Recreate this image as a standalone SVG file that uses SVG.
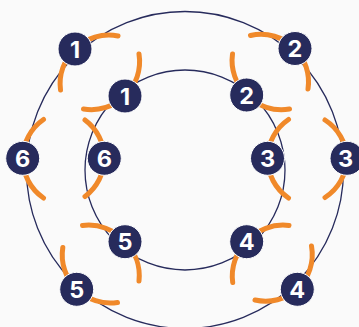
<svg xmlns="http://www.w3.org/2000/svg" width="359" height="327" viewBox="0 0 359 327">
  <style>
    .ring { fill: none; stroke: #272b5c; stroke-width: 1.3; }
    .arc { fill: none; stroke: #f0892a; stroke-width: 5; stroke-linecap: round; }
    .node circle { fill: #272b5c; stroke: #ffffff; stroke-width: 1; }
    .node text { fill: #ffffff; font-family: Inter, "Noto Sans", sans-serif; font-weight: 700; font-size: 23.5px; text-anchor: middle; }
  </style>
  <rect width="359" height="327" fill="#fafafa"/>

  <!-- concentric rings -->
  <g id="rings">
    <circle class="ring" cx="185" cy="170" r="158.5"/>
    <circle class="ring" cx="185" cy="170" r="100"/>
  </g>

  <!-- orange arcs pairing each outer badge with its inner badge -->
  <g id="connectors">
    <!-- pair 1 -->
    <path class="arc" d="M75 49 A48 48 0 0 1 118 36"/>
    <path class="arc" d="M75 49 A48 48 0 0 0 60.5 90"/>
    <path class="arc" d="M125 96 A48 48 0 0 0 139 54"/>
    <path class="arc" d="M125 96 A48 48 0 0 1 83.5 109"/>
    <!-- pair 2 -->
    <path class="arc" d="M295 48.5 A48 48 0 0 0 250.5 35.5"/>
    <path class="arc" d="M295 48.5 A48 48 0 0 1 308 89"/>
    <path class="arc" d="M246.7 95 A48 48 0 0 1 232.5 54"/>
    <path class="arc" d="M246.7 95 A48 48 0 0 0 289.5 109"/>
    <!-- pair 6 -->
    <path class="arc" d="M22.7 158.3 A48 48 0 0 1 43.5 119.5"/>
    <path class="arc" d="M22.7 158.3 A48 48 0 0 0 43.5 198"/>
    <path class="arc" d="M104.3 158.3 A48 48 0 0 0 85 120"/>
    <path class="arc" d="M104.3 158.3 A48 48 0 0 1 85 196.5"/>
    <!-- pair 3 -->
    <path class="arc" d="M267.5 158.3 A48 48 0 0 1 288.5 119.5"/>
    <path class="arc" d="M267.5 158.3 A48 48 0 0 0 288.5 198"/>
    <path class="arc" d="M347 158.3 A48 48 0 0 0 325 120"/>
    <path class="arc" d="M347 158.3 A48 48 0 0 1 325 197.5"/>
    <!-- pair 5 -->
    <path class="arc" d="M125 241.7 A48 48 0 0 0 82.5 225.5"/>
    <path class="arc" d="M125 241.7 A48 48 0 0 1 139 281"/>
    <path class="arc" d="M76.7 289.3 A48 48 0 0 1 62.8 247.5"/>
    <path class="arc" d="M76.7 289.3 A48 48 0 0 0 117.5 302.5"/>
    <!-- pair 4 -->
    <path class="arc" d="M246.7 241.7 A48 48 0 0 1 289 225.5"/>
    <path class="arc" d="M246.7 241.7 A48 48 0 0 0 232.7 282.5"/>
    <path class="arc" d="M297.3 289.3 A48 48 0 0 0 311.5 246"/>
    <path class="arc" d="M297.3 289.3 A48 48 0 0 1 255 300"/>
  </g>

  <!-- badges -->
  <g id="outer-1" class="node"><circle cx="75" cy="49" r="17"/><text x="75" y="57.5">1</text></g>
  <g id="inner-1" class="node"><circle cx="125" cy="96" r="17"/><text x="125" y="104.5">1</text></g>
  <g id="outer-2" class="node"><circle cx="295" cy="48.5" r="17"/><text x="295" y="57">2</text></g>
  <g id="inner-2" class="node"><circle cx="246.7" cy="95" r="17"/><text x="246.7" y="103.5">2</text></g>
  <g id="outer-6" class="node"><circle cx="22.7" cy="158.3" r="17"/><text x="22.7" y="166.8">6</text></g>
  <g id="inner-6" class="node"><circle cx="104.3" cy="158.3" r="17"/><text x="104.3" y="166.8">6</text></g>
  <g id="inner-3" class="node"><circle cx="267.5" cy="158.3" r="17"/><text x="267.5" y="166.8">3</text></g>
  <g id="outer-3" class="node"><circle cx="347" cy="158.3" r="17"/><text x="345.5" y="166.8">3</text></g>
  <g id="inner-5" class="node"><circle cx="125" cy="241.7" r="17"/><text x="125" y="250.2">5</text></g>
  <g id="outer-5" class="node"><circle cx="76.7" cy="289.3" r="17"/><text x="76.7" y="297.8">5</text></g>
  <g id="inner-4" class="node"><circle cx="246.7" cy="241.7" r="17"/><text x="246.7" y="250.2">4</text></g>
  <g id="outer-4" class="node"><circle cx="297.3" cy="289.3" r="17"/><text x="297.3" y="297.8">4</text></g>
</svg>
